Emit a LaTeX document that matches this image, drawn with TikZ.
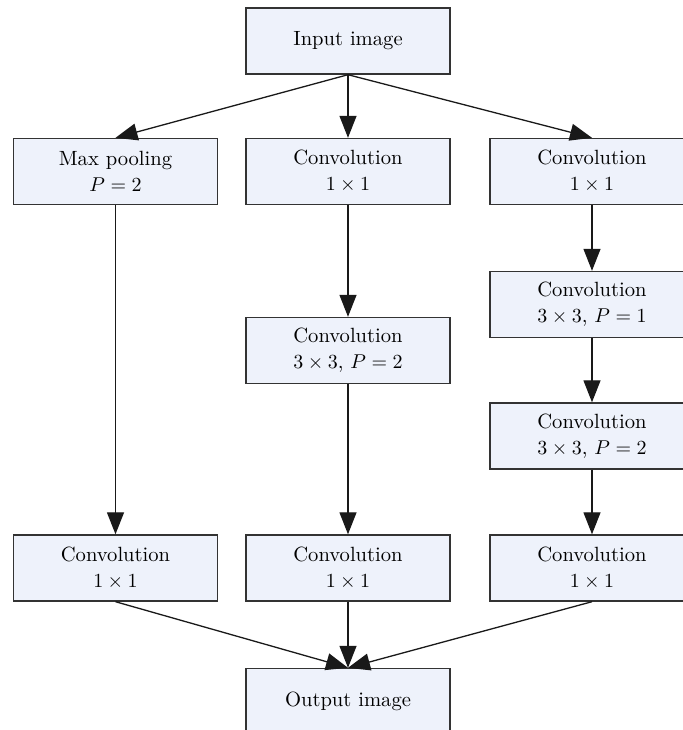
\documentclass[tikz,border=0pt]{standalone}
\usetikzlibrary{arrows.meta}
\definecolor{boxfill}{HTML}{EEF2FB}
\definecolor{boxline}{HTML}{333333}
\begin{document}
\begin{tikzpicture}[x=0.5pt,y=-0.5pt,
  blk/.style={draw=boxline, fill=boxfill, line width=0.7pt, minimum width=102pt, minimum height=33pt, align=center, inner sep=0pt, font=\fontsize{10.3}{13}\selectfont},
  conn/.style={draw=black!90, line width=0.65pt, -{Triangle[length=11pt,width=8.5pt]}}]
\useasboundingbox (0,0) rectangle (683,730);
\node[blk] (in) at (348,41) {Input image};
\node[blk] (mp) at (115.5,171.5) {Max pooling\\$P=2$};
\node[blk] (c1m) at (348,171.5) {Convolution\\$1\times1$};
\node[blk] (c1r) at (592,171.5) {Convolution\\$1\times1$};
\node[blk] (c3m) at (348,350.5) {Convolution\\$3\times3$, $P=2$};
\node[blk] (c3r1) at (592,304.5) {Convolution\\$3\times3$, $P=1$};
\node[blk] (c3r2) at (592,436) {Convolution\\$3\times3$, $P=2$};
\node[blk] (bl) at (115.5,568) {Convolution\\$1\times1$};
\node[blk] (bm) at (348,568) {Convolution\\$1\times1$};
\node[blk] (br) at (592,568) {Convolution\\$1\times1$};
\node[blk] (out) at (348,701.5) {Output image};
\draw[conn] (in.south) -- (mp.north);
\draw[conn] (in.south) -- (c1m.north);
\draw[conn] (in.south) -- (c1r.north);
\draw[conn] (mp.south) -- (bl.north);
\draw[conn] (c1m.south) -- (c3m.north);
\draw[conn] (c3m.south) -- (bm.north);
\draw[conn] (c1r.south) -- (c3r1.north);
\draw[conn] (c3r1.south) -- (c3r2.north);
\draw[conn] (c3r2.south) -- (br.north);
\draw[conn] (bl.south) -- (out.north);
\draw[conn] (bm.south) -- (out.north);
\draw[conn] (br.south) -- (out.north);
\end{tikzpicture}
\end{document}
